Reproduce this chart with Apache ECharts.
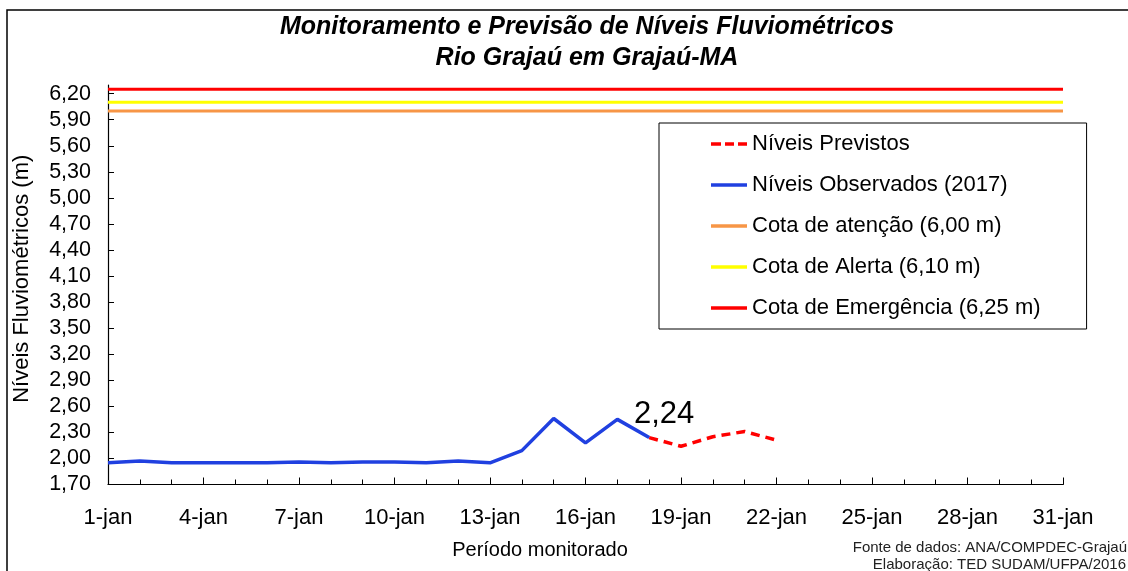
<!DOCTYPE html>
<html>
<head>
<meta charset="utf-8">
<script src="https://cdn.jsdelivr.net/npm/echarts@6/dist/echarts.min.js"></script>
<style>html,body{margin:0;padding:0;background:#fff}#c{width:1128px;height:571px}</style>
</head>
<body>
<div id="c"></div>
<script>
const days = ['1-jan','2-jan','3-jan','4-jan','5-jan','6-jan','7-jan','8-jan','9-jan','10-jan','11-jan','12-jan','13-jan','14-jan','15-jan','16-jan','17-jan','18-jan','19-jan','20-jan','21-jan','22-jan','23-jan','24-jan','25-jan','26-jan','27-jan','28-jan','29-jan','30-jan','31-jan'];
const observed = [1.95,1.97,1.95,1.95,1.95,1.95,1.96,1.95,1.96,1.96,1.95,1.97,1.95,2.09,2.46,2.18,2.45,2.24];
const forecastDays = ['18-jan','19-jan','20-jan','21-jan','22-jan'];
const forecast = [2.24,2.14,2.25,2.31,2.21];
const cotaAtencao = 6.00;
const cotaAlerta = 6.10;
const cotaEmergencia = 6.25;
const yMin = 1.70, yMax = 6.30, yStep = 0.30;

const off = yMin;
const fmt = v => v.toFixed(2).replace('.', ',');
const FONT = 'Liberation Sans, Arial, sans-serif';
const SOLID = 'path://M0,0h36v3.5h-36z';
const DASHED = 'path://M0,0h10v3.5h-10z M14,0h9v3.5h-9z M27,0h9v3.5h-9z';

const chart = echarts.init(document.getElementById('c'));
const levelLine = (name, val, color) => ({
  name, type: 'line', symbol: 'none', silent: true, z: 1,
  lineStyle: {color, width: 3},
  itemStyle: {color},
  data: [[days[0], val - off], [days[days.length - 1], val - off]]
});

chart.setOption({
  animation: false,
  backgroundColor: '#fff',
  grid: {left: 108, right: 65, top: 85, bottom: 86.5},
  xAxis: [{
    type: 'category', data: days, boundaryGap: false,
    axisLine: {lineStyle: {color: '#000', width: 1.2}},
    axisTick: {show: true, inside: true, length: 5, interval: 0, lineStyle: {color: '#000'}},
    axisLabel: {interval: 2, color: '#000', fontSize: 22, fontFamily: FONT, margin: 22},
    splitLine: {show: false}
  }, {
    type: 'category', data: days, boundaryGap: false, position: 'bottom',
    axisLine: {show: false},
    axisTick: {show: true, inside: true, length: 7, interval: 2, lineStyle: {color: '#000'}},
    axisLabel: {show: false}, splitLine: {show: false}
  }],
  yAxis: {
    type: 'value', min: 0, max: yMax - yMin, interval: yStep,
    name: 'Níveis Fluviométricos (m)', nameLocation: 'middle', nameGap: 75, nameRotate: 90,
    nameTextStyle: {color: '#000', fontSize: 22, fontFamily: FONT, padding: [0, 0, 0, 12]},
    axisLine: {show: true, lineStyle: {color: '#000', width: 1.2}},
    axisTick: {show: true, inside: true, length: 6, lineStyle: {color: '#000'}},
    axisLabel: {color: '#000', fontSize: 21.5, fontFamily: FONT, margin: 17, showMaxLabel: false,
      formatter: v => fmt(v + off)},
    splitLine: {show: false}
  },
  legend: {
    orient: 'vertical', left: 659, top: 123,
    padding: [10, 46, 10, 52], itemGap: 19, itemWidth: 36, itemHeight: 3.5,
    backgroundColor: '#fff', borderColor: '#000', borderWidth: 1, borderRadius: 0,
    textStyle: {color: '#000', fontSize: 22, fontFamily: FONT, lineHeight: 22},
    data: [
      {name: 'Níveis Previstos', icon: DASHED},
      {name: 'Níveis Observados (2017)', icon: SOLID},
      {name: 'Cota de atenção (6,00 m)', icon: SOLID},
      {name: 'Cota de Alerta (6,10 m)', icon: SOLID},
      {name: 'Cota de Emergência (6,25 m)', icon: SOLID}
    ]
  },
  series: [
    {
      name: 'Níveis Previstos', type: 'line', symbol: 'none', z: 3,
      lineStyle: {color: '#FF0000', width: 3.5, type: [9, 6]},
      itemStyle: {color: '#FF0000'},
      data: forecastDays.map((d, i) => [d, forecast[i] - off])
    },
    {
      name: 'Níveis Observados (2017)', type: 'line', symbol: 'none', z: 4,
      lineStyle: {color: '#2040E0', width: 3.5},
      itemStyle: {color: '#2040E0'},
      endLabel: {show: true, distance: 0, align: 'center', verticalAlign: 'bottom', offset: [15, -8],
        color: '#000', fontSize: 31, fontFamily: FONT,
        formatter: () => fmt(observed[observed.length - 1])},
      data: observed.map(v => v - off)
    },
    levelLine('Cota de atenção (6,00 m)', cotaAtencao, '#F79646'),
    levelLine('Cota de Alerta (6,10 m)', cotaAlerta, '#FFFF00'),
    levelLine('Cota de Emergência (6,25 m)', cotaEmergencia, '#FF0000')
  ],
  graphic: [
    {type: 'rect', shape: {x: 7, y: 10, width: 1200, height: 700}, style: {fill: 'none', stroke: '#000', lineWidth: 1.5}, silent: true},
    {type: 'text', x: 587, y: 27, style: {text: 'Monitoramento e Previsão de Níveis Fluviométricos', font: 'italic bold 25px ' + FONT, fill: '#000', textAlign: 'center', textVerticalAlign: 'middle'}},
    {type: 'text', x: 587, y: 58, style: {text: 'Rio Grajaú em Grajaú-MA', font: 'italic bold 25px ' + FONT, fill: '#000', textAlign: 'center', textVerticalAlign: 'middle'}},
    {type: 'text', x: 540, y: 550, style: {text: 'Período monitorado', font: '20px ' + FONT, fill: '#000', textAlign: 'center', textVerticalAlign: 'middle'}},
    {type: 'text', x: 1127, y: 548, style: {text: 'Fonte de dados: ANA/COMPDEC-Grajaú', font: '15px ' + FONT, fill: '#222', textAlign: 'right', textVerticalAlign: 'middle'}},
    {type: 'text', x: 1126, y: 565, style: {text: 'Elaboração: TED SUDAM/UFPA/2016', font: '15px ' + FONT, fill: '#222', textAlign: 'right', textVerticalAlign: 'middle'}}
  ]
});
</script>
</body>
</html>
